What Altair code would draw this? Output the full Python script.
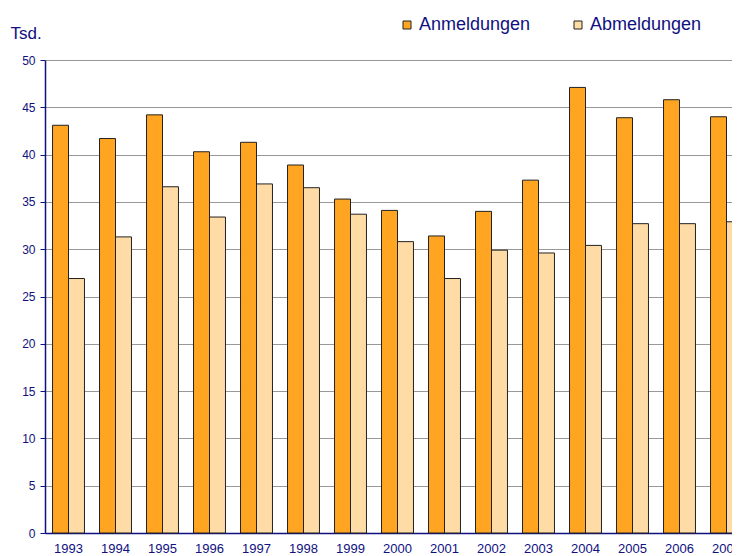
import altair as alt
import pandas as pd

years = [str(y) for y in range(1993, 2008)]
anmeldungen = [43.1, 41.7, 44.2, 40.3, 41.3, 38.9, 35.3, 34.1, 31.4, 34.0, 37.3, 47.1, 43.9, 45.8, 44.0]
abmeldungen = [26.9, 31.3, 36.6, 33.4, 36.9, 36.5, 33.7, 30.8, 26.9, 29.9, 29.6, 30.4, 32.7, 32.7, 32.9]
series = ["Anmeldungen", "Abmeldungen"]
colors = ["#FFA522", "#FFDBA5"]
navy = "#10107f"

rows = []
for i, y in enumerate(years):
    rows.append({"Jahr": y, "Serie": series[0], "Wert": anmeldungen[i]})
    rows.append({"Jahr": y, "Serie": series[1], "Wert": abmeldungen[i]})
df = pd.DataFrame(rows)

chart = alt.Chart(df).mark_bar(stroke="#222222", strokeWidth=1).encode(
    x=alt.X("Jahr:N", sort=years,
            scale=alt.Scale(range=[0, 705], paddingInner=0.32, paddingOuter=0.16),
            axis=alt.Axis(title=None, labelAngle=0, ticks=False, labelFontSize=13,
                          labelColor=navy, domainColor=navy, domainWidth=1.5,
                          labelPadding=9, grid=False, labelFont="Liberation Sans")),
    xOffset=alt.XOffset("Serie:N", sort=series, scale=alt.Scale(domain=series)),
    y=alt.Y("Wert:Q", scale=alt.Scale(domain=[0, 50], nice=False),
            axis=alt.Axis(values=list(range(0, 51, 5)), title="Tsd.", titleAngle=0,
                          titleX=-35, titleY=-27, titleAlign="left", titleBaseline="middle",
                          titleFontSize=17, titleFontWeight="normal", titleColor=navy,
                          titleFont="Liberation Sans",
                          labelColor=navy, labelFontSize=12, labelFont="Liberation Sans",
                          tickColor=navy, domainColor=navy, domainWidth=1.5,
                          tickSize=5, labelPadding=5, gridColor="#999999", gridWidth=1)),
    color=alt.Color("Serie:N", sort=series,
                    scale=alt.Scale(domain=series, range=colors),
                    legend=alt.Legend(title=None, orient="none", legendX=353, legendY=-44,
                                      direction="horizontal", symbolType="square",
                                      symbolSize=64, symbolStrokeColor="#222222",
                                      symbolStrokeWidth=1, symbolOpacity=1,
                                      labelFontSize=18, labelColor=navy,
                                      labelFont="Liberation Sans",
                                      labelOffset=3, columnPadding=38)),
).properties(
    width=687, height=473,
    autosize=alt.AutoSizeParams(type="none"),
    padding={"left": 37, "top": 52, "right": 0, "bottom": 23},
).configure_view(stroke=None)

chart.save("out.html", embed_options={"renderer": "svg", "actions": False})
